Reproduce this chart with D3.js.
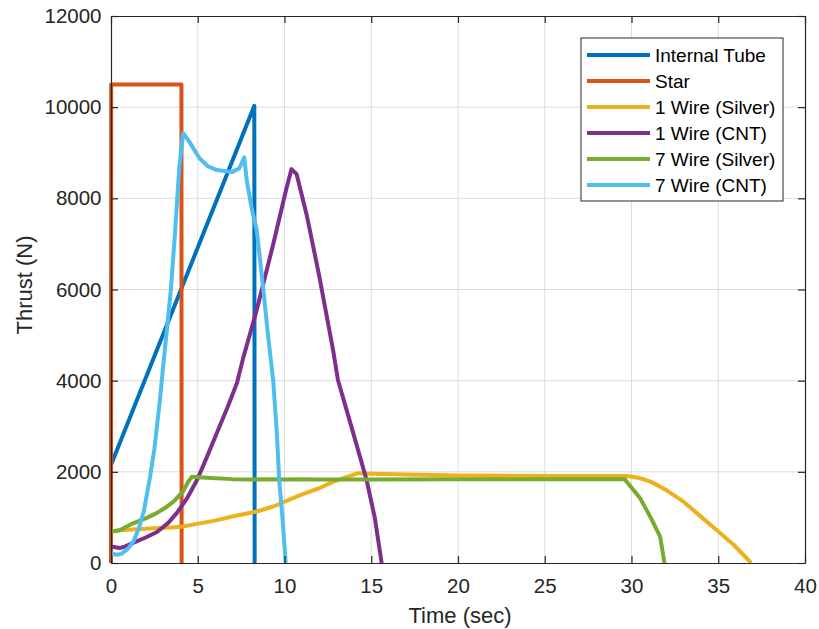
<!DOCTYPE html>
<html>
<head>
<meta charset="utf-8">
<script src="https://cdn.jsdelivr.net/npm/d3@7"></script>
<style>
  body { margin: 0; background: #fff; }
  svg { display: block; font-family: "Liberation Sans", Arial, sans-serif; }
</style>
</head>
<body>
<svg id="chart" width="819" height="629"></svg>
<script>
// series: [time (sec), thrust (N)]
const internalTube = [[0, 2150], [8.26, 10030], [8.28, 0]];
const star = [[0, 0], [0.01, 10500], [4.06, 10500], [4.07, 0]];
const wire1Silver = [[0, 690], [0.5, 720], [1.5, 740], [2.5, 760], [3.5, 780], [4.15, 800], [5.1, 870],
  [6, 930], [7, 1020], [8.4, 1130], [9.35, 1240], [10.9, 1490], [12, 1640], [12.8, 1780], [13.5, 1880],
  [14.25, 1970], [15, 1960], [17, 1940], [20, 1920], [25, 1910], [29.7, 1910], [30.4, 1870], [31.1, 1785],
  [32, 1600], [33, 1345], [33.9, 1050], [34.9, 725], [35.9, 395], [36.9, 0]];
const wire1CNT = [[0, 360], [0.5, 330], [0.8, 360], [1.27, 440], [2.0, 560], [2.65, 680], [3.3, 880],
  [3.8, 1100], [4.4, 1430], [4.96, 1820], [5.5, 2300], [6.1, 2850], [6.7, 3400], [7.26, 3950],
  [7.62, 4500], [8.4, 5550], [9.36, 7010], [10.1, 8200], [10.4, 8640], [10.7, 8530], [11.3, 7600],
  [12.0, 6300], [12.8, 4670], [13.08, 4015], [14.0, 2800], [14.73, 1820], [15.2, 1000], [15.6, 0]];
const wire7Silver = [[0, 690], [0.5, 720], [1.27, 870], [2.0, 980], [2.65, 1100], [3.2, 1230], [3.6, 1345],
  [4.15, 1565], [4.4, 1750], [4.65, 1890], [5.5, 1870], [7, 1840], [8, 1830], [9, 1840], [10, 1830],
  [11, 1840], [12, 1830], [15, 1830], [20, 1835], [25, 1835], [29.6, 1840], [30.5, 1420], [31.1, 1000],
  [31.65, 580], [31.9, 0]];
const wire7CNT = [[0, 220], [0.3, 180], [0.6, 200], [1.0, 320], [1.3, 480], [1.6, 750], [1.9, 1150],
  [2.25, 1890], [2.5, 2500], [2.82, 3575], [3.0, 4300], [3.2, 5040], [3.45, 6000], [3.69, 7240],
  [3.94, 8700], [4.16, 9430], [4.5, 9250], [5.1, 8880], [5.6, 8700], [6.1, 8620], [7.0, 8580],
  [7.4, 8660], [7.68, 8900], [7.82, 8400], [8.1, 7800], [8.4, 7300], [8.78, 6000], [9.05, 5000],
  [9.35, 4000], [9.55, 2900], [9.7, 1800], [9.9, 900], [10.07, 0]];

const seriesNames = ["Internal Tube", "Star", "1 Wire (Silver)", "1 Wire (CNT)", "7 Wire (Silver)", "7 Wire (CNT)"];
const seriesData = [internalTube, star, wire1Silver, wire1CNT, wire7Silver, wire7CNT];
const seriesColors = ["#0072BD", "#D95319", "#EDB120", "#7E2F8E", "#77AC30", "#4DBEEE"];

const xTicks = [0, 5, 10, 15, 20, 25, 30, 35, 40];
const yTicks = [0, 2000, 4000, 6000, 8000, 10000, 12000];

const width = 819, height = 629;
const margin = { top: 16, right: 14, bottom: 66, left: 111 };
const axisColor = "#262626";

const svg = d3.select("#chart");

const x = d3.scaleLinear().domain([0, 40]).range([margin.left, width - margin.right]);
const y = d3.scaleLinear().domain([0, 12000]).range([height - margin.bottom, margin.top]);

// grid
const grid = svg.append("g")
    .attr("stroke", "#dcdcdc")
    .attr("stroke-width", 1);
grid.selectAll(".gx").data(xTicks.slice(1, -1)).join("line")
    .attr("x1", d => x(d)).attr("x2", d => x(d))
    .attr("y1", y(0)).attr("y2", y(12000));
grid.selectAll(".gy").data(yTicks.slice(1, -1)).join("line")
    .attr("x1", x(0)).attr("x2", x(40))
    .attr("y1", d => y(d)).attr("y2", d => y(d));

// lines
const line = d3.line().x(d => x(d[0])).y(d => y(d[1]));
svg.append("g")
    .attr("fill", "none")
    .attr("stroke-width", 4)
    .attr("stroke-linejoin", "round")
    .selectAll("path")
    .data(seriesData)
    .join("path")
    .attr("stroke", (d, i) => seriesColors[i])
    .attr("d", line);

// axes
const styleAxis = g => {
    g.attr("font-size", 20.5).attr("font-family", null);
    g.select(".domain").attr("stroke", axisColor).attr("stroke-width", 1.2);
    g.selectAll(".tick line").attr("stroke", axisColor).attr("stroke-width", 1.2);
    g.selectAll(".tick text").attr("fill", axisColor);
};

svg.append("g")
    .attr("transform", `translate(0,${y(0)})`)
    .call(d3.axisBottom(x).tickValues(xTicks).tickSizeInner(-7).tickSizeOuter(0).tickPadding(15))
    .call(styleAxis);
svg.append("g")
    .attr("transform", `translate(0,${y(12000)})`)
    .call(d3.axisTop(x).tickValues(xTicks).tickSizeInner(-7).tickSizeOuter(0).tickFormat(""))
    .call(styleAxis);
svg.append("g")
    .attr("transform", `translate(${x(0)},0)`)
    .call(d3.axisLeft(y).tickValues(yTicks).tickSizeInner(-7).tickSizeOuter(0).tickPadding(9.5).tickFormat(d3.format("d")))
    .call(styleAxis);
svg.append("g")
    .attr("transform", `translate(${x(40)},0)`)
    .call(d3.axisRight(y).tickValues(yTicks).tickSizeInner(-7).tickSizeOuter(0).tickFormat(""))
    .call(styleAxis);

// axis labels
svg.append("text")
    .attr("x", 460)
    .attr("y", 623)
    .attr("text-anchor", "middle")
    .attr("font-size", 22)
    .attr("fill", axisColor)
    .text("Time (sec)");
svg.append("text")
    .attr("transform", "translate(32,285) rotate(-90)")
    .attr("text-anchor", "middle")
    .attr("font-size", 22)
    .attr("fill", axisColor)
    .text("Thrust (N)");

// legend
const legend = svg.append("g").attr("transform", "translate(581,38)");
legend.append("rect")
    .attr("width", 202).attr("height", 163)
    .attr("fill", "#fff")
    .attr("stroke", axisColor)
    .attr("stroke-width", 1);
const item = legend.selectAll("g.item")
    .data(seriesNames)
    .join("g")
    .attr("class", "item")
    .attr("transform", (d, i) => `translate(0,${17 + i * 26})`);
item.append("line")
    .attr("x1", 6).attr("x2", 69)
    .attr("stroke", (d, i) => seriesColors[i])
    .attr("stroke-width", 4);
item.append("text")
    .attr("x", 74)
    .attr("dy", "0.36em")
    .attr("font-size", 19)
    .attr("fill", "#000")
    .text(d => d);
</script>
</body>
</html>
